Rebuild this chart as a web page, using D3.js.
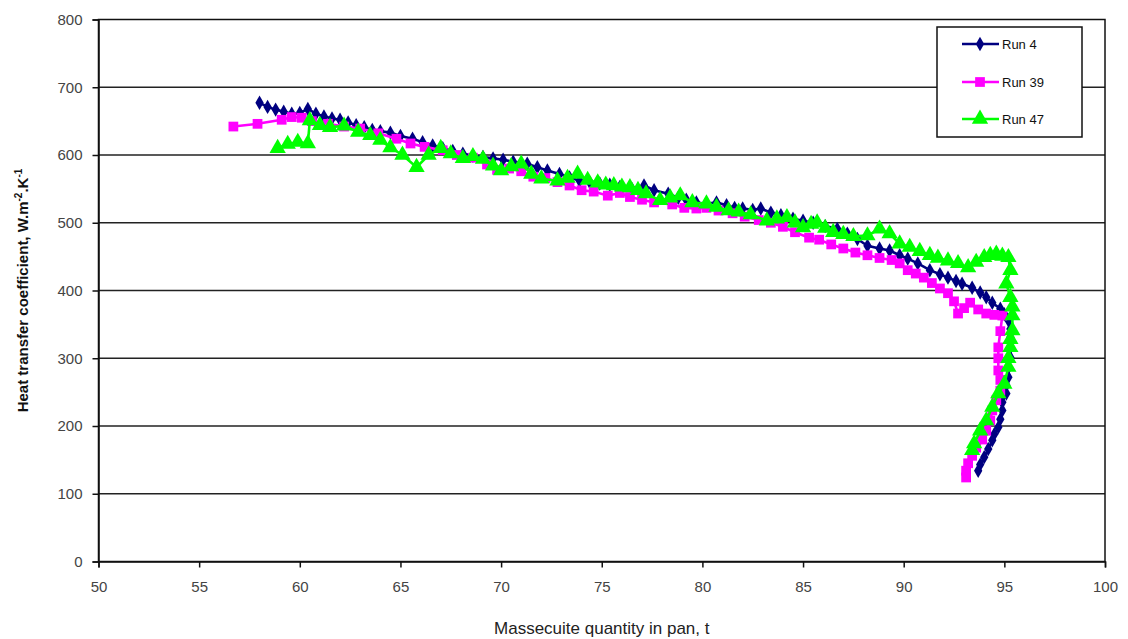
<!DOCTYPE html>
<html>
<head>
<meta charset="utf-8">
<script src="https://cdn.jsdelivr.net/npm/d3@7"></script>
<style>
  body { margin: 0; background: #fff; }
  svg { font-family: "Liberation Sans", Arial, sans-serif; }
</style>
</head>
<body>
<div id="chart"></div>
<script>
// axis ticks
const xTicks = [50, 55, 60, 65, 70, 75, 80, 85, 90, 95, 100];
const yTicks = [0, 100, 200, 300, 400, 500, 600, 700, 800];

// Run 4 (massecuite t, HTC)
const run4 = [
  [58.0, 677], [58.4, 671], [58.8, 667], [59.2, 664], [59.6, 661], [60.0, 662], [60.4, 668],
  [60.8, 661], [61.2, 657], [61.6, 654], [62.0, 652], [62.4, 648], [62.8, 644], [63.2, 641],
  [63.6, 637], [64.0, 635], [64.5, 633], [65.0, 628], [65.6, 624], [66.1, 619], [66.6, 614],
  [67.1, 610], [67.6, 606], [68.1, 602], [68.6, 599], [69.1, 597], [69.6, 595], [70.1, 593],
  [70.6, 590], [71.3, 587], [71.8, 582], [72.3, 577], [72.9, 572], [73.4, 567], [73.9, 562],
  [74.4, 560], [74.9, 558], [75.4, 556], [75.9, 553], [76.5, 550], [77.1, 555], [77.6, 548],
  [78.3, 543], [78.8, 537], [79.2, 534], [79.7, 530], [80.2, 528], [80.7, 530], [81.2, 526],
  [81.6, 522], [82.0, 521], [82.5, 519], [82.9, 521], [83.4, 515], [83.9, 511], [84.5, 506],
  [85.0, 503], [85.5, 500], [86.1, 495], [86.7, 491], [87.2, 484], [87.7, 476], [88.2, 466],
  [88.8, 462], [89.3, 459], [89.8, 452], [90.2, 447], [90.7, 440], [91.3, 430], [91.8, 424],
  [92.2, 419], [92.6, 414], [92.9, 410], [93.4, 404], [93.8, 397], [94.1, 390], [94.4, 382],
  [94.8, 373], [95.0, 365], [95.2, 356], [95.3, 343], [95.3, 331], [95.3, 316], [95.3, 301],
  [95.2, 286], [95.2, 272], [95.1, 260], [95.1, 248], [94.9, 235], [94.9, 223], [94.8, 210],
  [94.7, 198], [94.5, 188], [94.4, 179], [94.2, 166], [94.0, 154], [93.8, 143], [93.7, 134]
];

// Run 39
const run39 = [
  [56.7, 642], [57.9, 646], [59.1, 652], [59.6, 656], [60.1, 655], [60.6, 650], [61.4, 646],
  [62.2, 642], [63.0, 639], [63.9, 632], [64.8, 624], [65.5, 617], [66.2, 612], [67.1, 607],
  [67.8, 600], [68.6, 596], [69.3, 586], [69.8, 578], [70.4, 580], [71.0, 576], [71.6, 568],
  [72.2, 566], [72.8, 560], [73.4, 555], [74.0, 548], [74.6, 546], [75.3, 540], [75.9, 544],
  [76.4, 538], [77.0, 534], [77.6, 530], [78.5, 527], [79.1, 522], [79.7, 521], [80.2, 522],
  [80.8, 518], [81.5, 514], [82.1, 509], [82.8, 504], [83.4, 500], [84.0, 494], [84.6, 486],
  [85.3, 478], [85.8, 475], [86.4, 468], [87.0, 462], [87.6, 456], [88.2, 452], [88.8, 448],
  [89.4, 445], [89.8, 440], [90.2, 430], [90.6, 425], [91.0, 419], [91.4, 411], [91.8, 403],
  [92.2, 396], [92.5, 384], [92.7, 366], [93.0, 374], [93.3, 382], [93.7, 372], [94.1, 366],
  [94.5, 364], [94.9, 363], [94.8, 340], [94.7, 316], [94.7, 300], [94.7, 282], [94.8, 268],
  [94.8, 252], [94.6, 238], [94.4, 223], [94.3, 208], [94.1, 193], [93.9, 180], [93.6, 168],
  [93.4, 156], [93.2, 145], [93.1, 134], [93.1, 124]
];

// Run 47
const run47 = [
  [58.9, 610], [59.4, 616], [59.9, 619], [60.4, 617], [60.5, 651], [61.0, 644], [61.5, 641],
  [62.2, 643], [62.9, 634], [63.5, 629], [64.0, 622], [64.5, 611], [65.1, 600], [65.8, 582],
  [66.4, 600], [67.0, 610], [67.5, 602], [68.1, 595], [68.6, 598], [69.1, 594], [69.6, 584],
  [70.0, 577], [70.5, 583], [71.0, 587], [71.5, 572], [72.0, 565], [72.8, 562], [73.3, 566],
  [73.8, 572], [74.3, 563], [74.8, 559], [75.2, 556], [75.6, 555], [76.0, 553], [76.4, 552],
  [76.8, 548], [77.2, 543], [77.9, 533], [78.4, 537], [78.9, 540], [79.5, 530], [80.2, 528],
  [80.7, 523], [81.3, 518], [81.8, 516], [82.4, 512], [83.2, 503], [83.7, 506], [84.2, 508],
  [84.6, 500], [85.0, 493], [85.4, 498], [85.7, 500], [86.1, 492], [86.5, 486], [87.0, 483],
  [87.5, 480], [88.2, 481], [88.8, 491], [89.3, 484], [89.8, 469], [90.3, 464], [90.8, 458],
  [91.3, 452], [91.7, 448], [92.2, 444], [92.7, 440], [93.2, 434], [93.6, 442], [94.0, 449],
  [94.3, 452], [94.6, 454], [94.9, 451], [95.2, 449], [95.3, 430], [95.1, 410], [95.3, 390],
  [95.4, 376], [95.4, 363], [95.4, 341], [95.3, 328], [95.3, 316], [95.2, 300], [95.2, 287],
  [95.0, 262], [94.7, 248], [94.4, 228], [94.1, 208], [93.8, 193], [93.5, 174], [93.4, 164]
];

const seriesNames = ["Run 4", "Run 39", "Run 47"];
const seriesData = [run4, run39, run47];
const seriesColors = ["#000080", "#ff00ff", "#00ff00"];
const seriesSymbols = [d3.symbolDiamond, d3.symbolSquare, d3.symbolTriangle];
const symbolSizes = [60, 95, 115];

const width = 1128, height = 639;
const margin = {left: 98.5, right: 23, top: 19.5, bottom: 77.5};

const svg = d3.select("#chart").append("svg")
    .attr("width", width)
    .attr("height", height);

const x = d3.scaleLinear().domain([50, 100]).range([margin.left, width - margin.right]);
const y = d3.scaleLinear().domain([0, 800]).range([height - margin.bottom, margin.top]);

// horizontal gridlines
svg.append("g")
    .selectAll("line")
    .data(yTicks.filter(d => d > 0 && d < 800))
    .enter()
    .append("line")
    .attr("x1", x(50)).attr("x2", x(100))
    .attr("y1", d => y(d)).attr("y2", d => y(d))
    .attr("stroke", "#222")
    .attr("stroke-width", 1.4);

// frame
svg.append("rect")
    .attr("x", x(50)).attr("y", y(800))
    .attr("width", x(100) - x(50)).attr("height", y(0) - y(800))
    .attr("fill", "none")
    .attr("stroke", "#111")
    .attr("stroke-width", 1.5);

// axes
const yAxis = d3.axisLeft(y).tickValues(yTicks).tickSize(6).tickPadding(10);
const xAxis = d3.axisBottom(x).tickValues(xTicks).tickSize(6).tickPadding(14);

const gy = svg.append("g").attr("transform", `translate(${x(50)},0)`).call(yAxis);
const gx = svg.append("g").attr("transform", `translate(0,${y(0)})`).call(xAxis);

[gy, gx].forEach(g => {
    g.select(".domain").attr("stroke", "#111").attr("stroke-width", 1.5);
    g.selectAll(".tick line").attr("stroke", "#111").attr("stroke-width", 1.5);
    g.selectAll(".tick text")
        .attr("font-size", 15)
        .attr("fill", "#444")
        .attr("font-family", "Liberation Sans, Arial, sans-serif");
});

// series
const line = d3.line().x(d => x(d[0])).y(d => y(d[1]));

seriesData.forEach((data, i) => {
    const g = svg.append("g");
    g.append("path")
        .datum(data)
        .attr("d", line)
        .attr("fill", "none")
        .attr("stroke", seriesColors[i])
        .attr("stroke-width", 2.6);
    g.selectAll("path.pt")
        .data(data)
        .enter()
        .append("path")
        .attr("class", "pt")
        .attr("d", d3.symbol().type(seriesSymbols[i]).size(symbolSizes[i]))
        .attr("transform", d => `translate(${x(d[0])},${y(d[1])})`)
        .attr("fill", seriesColors[i]);
});

// axis titles
svg.append("text")
    .attr("x", (x(50) + x(100)) / 2)
    .attr("y", 634)
    .attr("text-anchor", "middle")
    .attr("font-size", 17)
    .attr("fill", "#222")
    .text("Massecuite quantity in pan, t");

const yTitle = svg.append("text")
    .attr("transform", `translate(28,${(y(0) + y(800)) / 2}) rotate(-90)`)
    .attr("text-anchor", "middle")
    .attr("font-size", 15)
    .attr("font-weight", "bold")
    .attr("fill", "#111");
yTitle.append("tspan").text("Heat transfer coefficient, W.m");
yTitle.append("tspan").attr("dy", -6).attr("font-size", 10).text("-2");
yTitle.append("tspan").attr("dy", 6).text(".K");
yTitle.append("tspan").attr("dy", -6).attr("font-size", 10).text("-1");

// legend
const legend = svg.append("g").attr("transform", "translate(937,27)");
legend.append("rect")
    .attr("width", 145).attr("height", 110)
    .attr("fill", "#fff")
    .attr("stroke", "#111")
    .attr("stroke-width", 1.5);

const legendRows = [17, 55, 92];
seriesNames.forEach((name, i) => {
    const row = legend.append("g").attr("transform", `translate(0,${legendRows[i]})`);
    row.append("line")
        .attr("x1", 25).attr("x2", 62)
        .attr("stroke", seriesColors[i])
        .attr("stroke-width", 2.6);
    row.append("path")
        .attr("d", d3.symbol().type(seriesSymbols[i]).size(symbolSizes[i]))
        .attr("transform", "translate(43,0)")
        .attr("fill", seriesColors[i]);
    row.append("text")
        .attr("x", 65).attr("y", 5)
        .attr("font-size", 13)
        .attr("fill", "#111")
        .text(name);
});
</script>
</body>
</html>
